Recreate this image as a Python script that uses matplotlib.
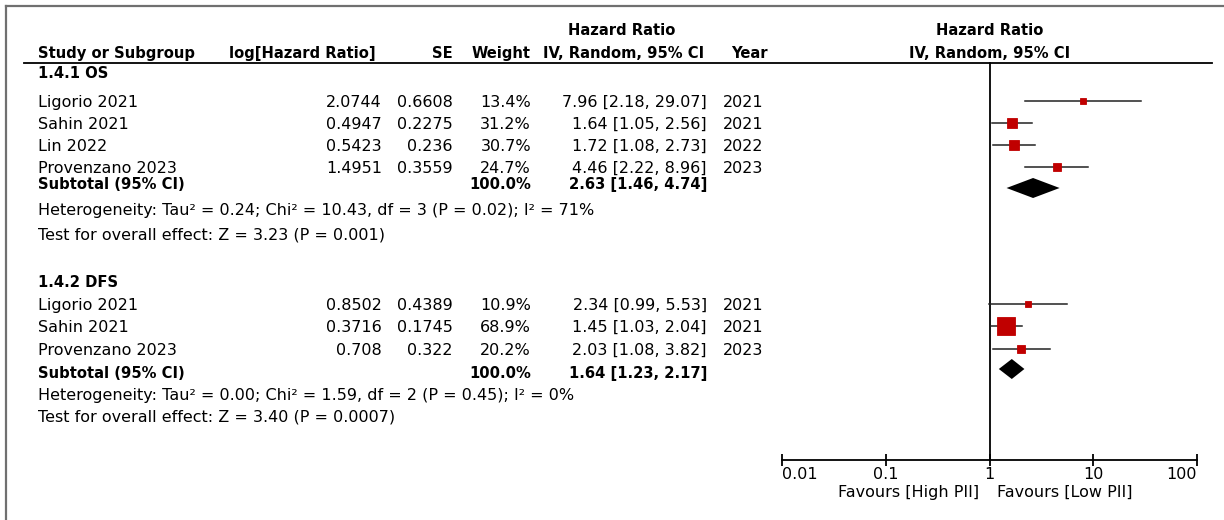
import matplotlib
matplotlib.use('Agg')
import matplotlib.pyplot as plt
import numpy as np

# Subgroup 1.4.1 OS
os_study = ['Ligorio 2021', 'Sahin 2021', 'Lin 2022', 'Provenzano 2023']
os_loghr = [2.0744, 0.4947, 0.5423, 1.4951]
os_se = [0.6608, 0.2275, 0.236, 0.3559]
os_weight = [13.4, 31.2, 30.7, 24.7]
os_hr = [7.96, 1.64, 1.72, 4.46]
os_lo = [2.18, 1.05, 1.08, 2.22]
os_hi = [29.07, 2.56, 2.73, 8.96]
os_year = [2021, 2021, 2022, 2023]
os_total = [2.63, 1.46, 4.74]
os_het = 'Heterogeneity: Tau² = 0.24; Chi² = 10.43, df = 3 (P = 0.02); I² = 71%'
os_test = 'Test for overall effect: Z = 3.23 (P = 0.001)'

# Subgroup 1.4.2 DFS
dfs_study = ['Ligorio 2021', 'Sahin 2021', 'Provenzano 2023']
dfs_loghr = [0.8502, 0.3716, 0.708]
dfs_se = [0.4389, 0.1745, 0.322]
dfs_weight = [10.9, 68.9, 20.2]
dfs_hr = [2.34, 1.45, 2.03]
dfs_lo = [0.99, 1.03, 1.08]
dfs_hi = [5.53, 2.04, 3.82]
dfs_year = [2021, 2021, 2023]
dfs_total = [1.64, 1.23, 2.17]
dfs_het = 'Heterogeneity: Tau² = 0.00; Chi² = 1.59, df = 2 (P = 0.45); I² = 0%'
dfs_test = 'Test for overall effect: Z = 3.40 (P = 0.0007)'

ticks = [0.01, 0.1, 1, 10, 100]
tick_labels = ['0.01', '0.1', '1', '10', '100']

W, H = 1224, 520
FS = 11.5     # regular text
FSB = 10.6    # bold text
RED = '#c00000'

plt.rcParams['font.family'] = 'DejaVu Sans'
fig = plt.figure(figsize=(W / 100, H / 100), dpi=100)

# background axes in pixel units for the table part
ax = fig.add_axes([0, 0, 1, 1])
ax.set_xlim(0, W)
ax.set_ylim(H, 0)
ax.axis('off')

# forest plot axes, y in the same pixel rows
x0, x1, y0, y1 = 782, 1197, 63, 460
fx = fig.add_axes([x0 / W, (H - y1) / H, (x1 - x0) / W, (y1 - y0) / H])
fx.set_facecolor('none')
fx.set_xscale('log')
fx.set_xlim(0.01, 100)
fx.set_ylim(y1, y0)
for s in ['top', 'left', 'right']:
    fx.spines[s].set_visible(False)
fx.spines['bottom'].set_linewidth(1.3)
fx.set_yticks([])
fx.set_xticks(ticks)
fx.set_xticklabels(tick_labels, fontsize=FS)
fx.xaxis.set_minor_locator(matplotlib.ticker.NullLocator())
fx.tick_params(axis='x', direction='inout', length=8, width=1.3, pad=1)
lbls = fx.get_xticklabels()
lbls[0].set_ha('left')
lbls[-1].set_ha('right')
fx.plot([1, 1], [y0, y1], color='black', lw=1.3, clip_on=False)

# frame and header rule
ax.plot([6, W], [6, 6], color='#707070', lw=1.6)
ax.plot([6, 6], [6, H], color='#707070', lw=1.6)
ax.plot([24, 1212], [63, 63], color='black', lw=1.3)

# column anchors
c_study, c_log, c_se, c_w, c_ci, c_year = 38, 382, 453, 531, 707, 723

bold = dict(fontsize=FSB, fontweight='bold', va='baseline')
norm = dict(fontsize=FS, va='baseline')
ax.text(622, 35, 'Hazard Ratio', ha='center', **bold)
ax.text(990, 35, 'Hazard Ratio', ha='center', **bold)
ax.text(c_study, 58, 'Study or Subgroup', ha='left', **bold)
ax.text(c_log - 6, 58, 'log[Hazard Ratio]', ha='right', **bold)
ax.text(c_se, 58, 'SE', ha='right', **bold)
ax.text(c_w, 58, 'Weight', ha='right', **bold)
ax.text(624, 58, 'IV, Random, 95% CI', ha='center', **bold)
ax.text(768, 58, 'Year', ha='right', **bold)
ax.text(990, 58, 'IV, Random, 95% CI', ha='center', **bold)


def subgroup(title, y_title, base, study, loghr, se, weight, hr, lo, hi, year,
             total, y_total, y_diamond, het, y_het, test, y_test):
    ax.text(c_study, y_title, title, ha='left', **bold)
    for i in range(len(study)):
        yb = base[i]
        ax.text(c_study, yb, study[i], ha='left', **norm)
        ax.text(c_log, yb, f'{loghr[i]:g}', ha='right', **norm)
        ax.text(c_se, yb, f'{se[i]:g}', ha='right', **norm)
        ax.text(c_w, yb, f'{weight[i]:.1f}%', ha='right', **norm)
        ax.text(c_ci, yb, f'{hr[i]:.2f} [{lo[i]:.2f}, {hi[i]:.2f}]', ha='right', **norm)
        ax.text(c_year, yb, str(year[i]), ha='left', **norm)
        ym = yb - 6.5
        fx.plot([lo[i], hi[i]], [ym, ym], color='#222222', lw=1.1, zorder=2)
        side = 2.4 + 0.24 * weight[i]
        fx.plot(hr[i], ym, marker='s', ms=side * 0.72, color=RED,
                mec=RED, mew=0.6, zorder=3)
    ax.text(c_study, y_total, 'Subtotal (95% CI)', ha='left', **bold)
    ax.text(c_w, y_total, f'{sum(weight):.1f}%', ha='right', **bold)
    est, tlo, thi = total
    ax.text(c_ci, y_total, f'{est:.2f} [{tlo:.2f}, {thi:.2f}]', ha='right', **bold)
    fx.fill([tlo, est, thi, est], [y_diamond, y_diamond - 10, y_diamond, y_diamond + 10],
            color='black', lw=0, zorder=3)
    ax.text(c_study, y_het, het, ha='left', **norm)
    ax.text(c_study, y_test, test, ha='left', **norm)


subgroup('1.4.1 OS', 78, [107, 129, 151, 173], os_study, os_loghr, os_se,
         os_weight, os_hr, os_lo, os_hi, os_year, os_total, 189, 188,
         os_het, 215, os_test, 240)
subgroup('1.4.2 DFS', 287, [310, 332, 355], dfs_study, dfs_loghr, dfs_se,
         dfs_weight, dfs_hr, dfs_lo, dfs_hi, dfs_year, dfs_total, 378, 369,
         dfs_het, 400, dfs_test, 421)

ax.text(979, 497, 'Favours [High PII]', ha='right', **norm)
ax.text(997, 497, 'Favours [Low PII]', ha='left', **norm)

fig.savefig('out.png', dpi=100)
